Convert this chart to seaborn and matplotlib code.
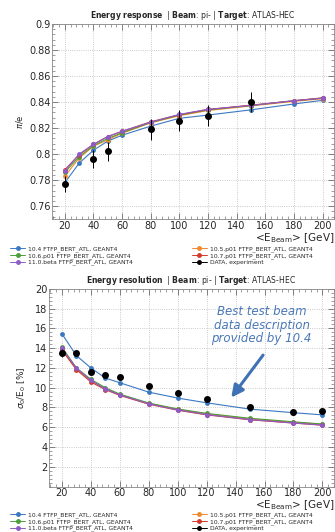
import numpy as np
import pandas as pd
import seaborn as sns
import matplotlib
matplotlib.use("Agg")
import matplotlib.pyplot as plt
from matplotlib.ticker import MultipleLocator
from matplotlib.lines import Line2D

# beam energies in GeV
energy = [20, 30, 40, 50, 60, 80, 100, 120, 150, 180, 200]

versions = ['10.4 FTFP_BERT_ATL, GEANT4', '10.5.p01 FTFP_BERT_ATL, GEANT4',
            '10.6.p01 FTFP_BERT_ATL, GEANT4', '10.7.p01 FTFP_BERT_ATL, GEANT4',
            '11.0.beta FTFP_BERT_ATL, GEANT4']
colors = ['#3b78c2', '#f08a2c', '#4c9e3a', '#d2392b', '#8d5cc9']

# energy response pi/e
resp_104 = [0.778, 0.793, 0.803, 0.810, 0.8145, 0.8215, 0.8275, 0.830, 0.834, 0.8385, 0.8413]
resp_105 = [0.783, 0.797, 0.806, 0.811, 0.816, 0.824, 0.8295, 0.8335, 0.837, 0.8405, 0.8425]
resp_106 = [0.786, 0.798, 0.8065, 0.812, 0.8165, 0.8243, 0.830, 0.834, 0.8373, 0.841, 0.843]
resp_107 = [0.788, 0.7995, 0.8075, 0.8135, 0.8175, 0.8248, 0.8303, 0.8343, 0.8376, 0.841, 0.8432]
resp_110 = [0.787, 0.800, 0.8075, 0.8135, 0.8175, 0.8245, 0.8305, 0.8344, 0.8374, 0.841, 0.843]
resp_data_e = [20, 40, 50, 80, 100, 120, 150]
resp_data = [0.777, 0.796, 0.802, 0.819, 0.8255, 0.8295, 0.840]
resp_data_err = [0.006, 0.007, 0.007, 0.008, 0.008, 0.008, 0.008]

# energy resolution sigma0/E0 [%]
res_104 = [15.45, 13.25, 12.0, 10.98, 10.5, 9.55, 8.95, 8.47, 7.83, 7.47, 7.25]
res_105 = [13.9, 11.9, 10.7, 9.9, 9.3, 8.4, 7.8, 7.35, 6.85, 6.5, 6.3]
res_106 = [14.1, 12.0, 10.85, 10.0, 9.35, 8.45, 7.85, 7.4, 6.9, 6.55, 6.32]
res_107 = [13.8, 11.83, 10.58, 9.8, 9.22, 8.33, 7.72, 7.25, 6.75, 6.42, 6.2]
res_110 = [13.97, 12.0, 10.75, 9.88, 9.27, 8.37, 7.75, 7.28, 6.77, 6.43, 6.22]
res_data_e = energy
res_data = [13.5, 13.5, 11.6, 11.3, 11.08, 10.14, 9.46, 8.85, 8.0, 7.49, 7.69]
res_data_err = [0.4, 0.2, 0.15, 0.15, 0.15, 0.1, 0.1, 0.1, 0.1, 0.1, 0.1]


def to_frame(series):
    rows = []
    for name, vals in zip(versions, series):
        for e, v in zip(energy, vals):
            rows.append((name, e, v))
    return pd.DataFrame(rows, columns=['version', 'E', 'value'])


sns.set_theme(style="ticks")
plt.rcParams['font.family'] = ['DejaVu Sans']
plt.rcParams['axes.linewidth'] = 0.6

fig = plt.figure(figsize=(3.35, 5.32), dpi=100)
ax1 = fig.add_axes([0.155, 0.588, 0.842, 0.367])
ax2 = fig.add_axes([0.146, 0.0855, 0.851, 0.3715])


def draw_panel(ax, series, de, dv, derr):
    df = to_frame(series)
    sns.lineplot(data=df, x='E', y='value', hue='version', hue_order=versions,
                 palette=colors, marker='o', markersize=3.5, markeredgewidth=0,
                 linewidth=0.8, legend=False, ax=ax)
    ax.errorbar(de, dv, yerr=derr, fmt='o', color='black', markersize=4,
                elinewidth=0.7, capsize=0, zorder=5)
    ax.set_xlim(11, 208)
    ax.xaxis.set_major_locator(MultipleLocator(20))
    ax.xaxis.set_minor_locator(MultipleLocator(4))
    ax.tick_params(which='both', direction='in', top=True, right=True,
                   labelsize=7, pad=1, color='#555555')
    ax.tick_params(which='major', length=4, width=0.5)
    ax.tick_params(which='minor', length=2, width=0.4)
    ax.grid(True, which='major', linestyle=':', linewidth=0.6, color='#bbbbbb')
    for s in ax.spines.values():
        s.set_color('#888888')
    ax.set_xlabel(r'<E$_{\mathrm{Beam}}$> [GeV]', fontsize=7.5, loc='right', labelpad=0.5)


def panel_title(ax, name):
    ax.set_title(r'$\bf{' + name.replace(' ', r'\ ') + r'}$  | $\bf{Beam}$: pi- | $\bf{Target}$: ATLAS-HEC',
                 fontsize=5.5, pad=4)


def panel_legend(ax, y):
    handles = [Line2D([], [], color=c, marker='o', markersize=2.5, linewidth=0.7) for c in colors]
    handles.append(Line2D([], [], color='black', marker='o', markersize=2.5, linewidth=0.7))
    labels = versions + ['DATA, experiment']
    left = ax.legend([handles[0], handles[2], handles[4]], [labels[0], labels[2], labels[4]],
                     loc='upper left', bbox_to_anchor=(0.03, y), bbox_transform=fig.transFigure,
                     frameon=False, fontsize=4.3, handlelength=2.5, handletextpad=0.5,
                     labelspacing=0.15, borderaxespad=0, borderpad=0)
    ax.add_artist(left)
    ax.legend([handles[1], handles[3], handles[5]], [labels[1], labels[3], labels[5]],
              loc='upper left', bbox_to_anchor=(0.572, y), bbox_transform=fig.transFigure,
              frameon=False, fontsize=4.3, handlelength=2.5, handletextpad=0.5,
              labelspacing=0.15, borderaxespad=0, borderpad=0)


# top panel: energy response
draw_panel(ax1, [resp_104, resp_105, resp_106, resp_107, resp_110],
           resp_data_e, resp_data, resp_data_err)
ax1.set_ylim(0.75, 0.9)
ax1.yaxis.set_minor_locator(MultipleLocator(0.004))
ax1.set_yticks([0.76, 0.78, 0.8, 0.82, 0.84, 0.86, 0.88, 0.9])
ax1.set_yticklabels(['0.76', '0.78', '0.8', '0.82', '0.84', '0.86', '0.88', '0.9'])
ax1.set_ylabel(r'$\pi$/e', fontsize=6, labelpad=3)
panel_title(ax1, 'Energy response')
panel_legend(ax1, 1 - 246 / 532)

# bottom panel: energy resolution
draw_panel(ax2, [res_104, res_105, res_106, res_107, res_110],
           res_data_e, res_data, res_data_err)
ax2.set_ylim(0, 20)
ax2.yaxis.set_minor_locator(MultipleLocator(0.4))
ax2.set_yticks([2, 4, 6, 8, 10, 12, 14, 16, 18, 20])
ax2.set_ylabel(r'$\sigma_0$/E$_0$ [%]', fontsize=6.5, labelpad=5)
panel_title(ax2, 'Energy resolution')
panel_legend(ax2, 1 - 512 / 532)

ax2.text(158, 16.3, 'Best test beam\ndata description\nprovided by 10.4',
         ha='center', va='center', fontsize=8.5, style='italic', color='#4a78b8',
         linespacing=1.05)
ax2.annotate('', xy=(137, 9.0), xytext=(159, 13.3),
             arrowprops=dict(arrowstyle='-|>,head_width=0.3,head_length=0.6',
                             color='#3f72b5', linewidth=2.2, shrinkA=0, shrinkB=0))

fig.savefig('out.png', dpi=100)
